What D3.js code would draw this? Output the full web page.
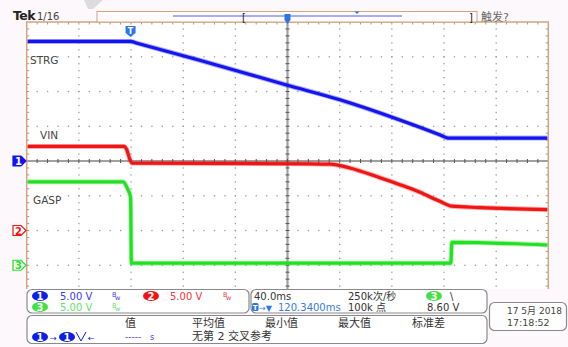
<!DOCTYPE html>
<html><head><meta charset="utf-8">
<script src="https://cdn.jsdelivr.net/npm/d3@7"></script>
<style>
body{margin:0;background:#fdf8fc;overflow:hidden;}
text{font-family:"DejaVu Sans","Noto Sans CJK SC",sans-serif;}
</style></head><body><div id="chart"></div>
<script>
// time in ms from trigger, values in volts
const strgTime = [-79.7, 0, 5, 53, 120.3, 160.6, 206.5, 238, 243.4, 320.3];
const strgVolt = [17.2, 17.2, 16.95, 14.5, 10.9, 8.8, 5.9, 3.7, 3.3, 3.3];
const vinTime = [-79.7, -5, -3, -0.5, 1.1, 137.5, 152.9, 168.2, 191.2, 206.5, 221.9, 237.2, 246.4, 267.9, 320.3];
const vinVolt = [12.1, 12.1, 11.65, 10.2, 9.7, 9.6, 9.55, 9.0, 7.6, 6.6, 5.5, 4.2, 3.5, 3.3, 3.0];
const gaspTime = [-79.7, -5.8, -2.1, 0, 0.6, 245.6, 246.4, 320.3];
const gaspVolt = [12.0, 12.0, 10.9, 9.8, 0.3, 0.3, 3.3, 2.9];
const traceLabels = ['STRG', 'VIN', 'GASP'];
const chNames = ['1', '2', '3'];
const chVoltsDiv = [5, 5, 5];
const chOffsetDiv = [0, -2, -3];
const timeWindow = [-79.66, 320.34]; // 40 ms/div, centre 120.34 ms

const W = 568, H = 347;
const blue = '#1414f0', red = '#f01414', green = '#22e022', tan = '#d2a57c';

const x = d3.scaleLinear().domain(timeWindow).range([26.7, 548.3]);
const y = d3.scaleLinear().domain([-4, 4]).range([300, 22]);
const divW = (x.range()[1] - x.range()[0]) / 10;
const divH = (y.range()[0] - y.range()[1]) / 8;

const svg = d3.select('#chart').append('svg')
  .attr('width', W).attr('height', H);

// watermark smear at the top
svg.append('path').attr('d', 'M84,0 L103,0 L93,9 L88,9 Z').attr('fill', '#dcdcdc');

// plot area
svg.append('rect').attr('x', x.range()[0]).attr('y', 22)
  .attr('width', x.range()[1] - x.range()[0]).attr('height', 267).attr('fill', '#fff');

const grid = svg.append('g');
// dotted grid
for (let i = 1; i < 10; i++) {
  if (i === 5) continue;
  const gx = x.range()[0] + i * divW;
  for (let k = 1; k < 40; k++) {
    const gy = 22 + k * divH / 5;
    if (gy > 288) break;
    grid.append('rect').attr('x', gx - 0.6).attr('y', gy - 0.6).attr('width', 1.3).attr('height', 1.3).attr('fill', '#9a9a9a');
  }
}
for (let j = -3; j <= 3; j++) {
  if (j === 0) continue;
  const gy = y(j);
  for (let k = 1; k < 50; k++) {
    const gx = x.range()[0] + k * divW / 5;
    grid.append('rect').attr('x', gx - 0.6).attr('y', gy - 0.6).attr('width', 1.3).attr('height', 1.3).attr('fill', '#9a9a9a');
  }
}
// centre lines with ticks
const cx = x(d3.mean(timeWindow));
grid.append('line').attr('x1', cx).attr('x2', cx).attr('y1', 22).attr('y2', 289)
  .attr('stroke', '#a0a0a0').attr('stroke-width', 2.2);
grid.append('line').attr('x1', x.range()[0]).attr('x2', x.range()[1]).attr('y1', y(0)).attr('y2', y(0))
  .attr('stroke', '#a0a0a0').attr('stroke-width', 2.2);
for (let k = 1; k < 40; k++) {
  const gy = 22 + k * divH / 5;
  if (gy > 288) break;
  grid.append('line').attr('x1', cx - 2).attr('x2', cx + 2).attr('y1', gy).attr('y2', gy).attr('stroke', '#555').attr('stroke-width', 1);
}
for (let k = 1; k < 50; k++) {
  const gx = x.range()[0] + k * divW / 5;
  grid.append('line').attr('x1', gx).attr('x2', gx).attr('y1', y(0) - 2).attr('y2', y(0) + 2).attr('stroke', '#555').attr('stroke-width', 1);
}
// border ticks
for (let k = 1; k < 50; k++) {
  const gx = x.range()[0] + k * divW / 5;
  grid.append('line').attr('x1', gx).attr('x2', gx).attr('y1', 22).attr('y2', 24.5).attr('stroke', '#999').attr('stroke-width', 1);
}
for (let k = 1; k < 40; k++) {
  const gy = 22 + k * divH / 5;
  if (gy > 288) break;
  grid.append('line').attr('x1', x.range()[0]).attr('x2', x.range()[0] + 2.5).attr('y1', gy).attr('y2', gy).attr('stroke', '#999').attr('stroke-width', 1);
  grid.append('line').attr('x1', x.range()[1] - 2.5).attr('x2', x.range()[1]).attr('y1', gy).attr('y2', gy).attr('stroke', '#999').attr('stroke-width', 1);
}
// tan border
svg.append('path')
  .attr('d', `M${x.range()[0]},289 V22 H${x.range()[1]} V289`)
  .attr('fill', 'none').attr('stroke', tan).attr('stroke-width', 1.5);

// traces
svg.append('clipPath').attr('id', 'clip').append('rect')
  .attr('x', x.range()[0] + 1).attr('y', 23).attr('width', x.range()[1] - x.range()[0] - 2).attr('height', 266);
const traces = [
  { t: strgTime, v: strgVolt, ch: 0, color: blue },
  { t: vinTime, v: vinVolt, ch: 1, color: red },
  { t: gaspTime, v: gaspVolt, ch: 2, color: green },
];
const tg = svg.append('g').attr('clip-path', 'url(#clip)');
traces.forEach((s) => {
  const pts = s.t.map((t, i) => [x(t), y(chOffsetDiv[s.ch] + s.v[i] / chVoltsDiv[s.ch])]);
  const line = d3.line().curve(d3.curveMonotoneX);
  tg.append('path').attr('d', line(pts)).attr('fill', 'none')
    .attr('stroke', s.color).attr('stroke-width', 5).attr('stroke-opacity', 0.35).attr('stroke-linejoin', 'round');
  tg.append('path').attr('d', line(pts)).attr('fill', 'none')
    .attr('stroke', s.color).attr('stroke-width', 3.2).attr('stroke-linejoin', 'round');
});

// trace labels
const labelPos = [[30, 64], [40, 139], [33, 204]];
traceLabels.forEach((l, i) => {
  svg.append('text').attr('x', labelPos[i][0]).attr('y', labelPos[i][1])
    .attr('font-size', 10.5).attr('fill', '#444').text(l);
});

// channel ground markers
const chColors = [blue, red, green];
chNames.forEach((n, i) => {
  const gy = y(chOffsetDiv[i]);
  const filled = i === 0;
  svg.append('path')
    .attr('d', `M13,${gy - 5} H21 L26,${gy} L21,${gy + 5} H13 Z`)
    .attr('fill', filled ? chColors[i] : '#fff').attr('stroke', chColors[i]).attr('stroke-width', 1.2);
  svg.append('text').attr('x', 18.5).attr('y', gy + 4).attr('text-anchor', 'middle')
    .attr('font-size', 10).attr('font-weight', 'bold')
    .attr('fill', filled ? '#fff' : chColors[i]).text(n);
});

// trigger marker T
const trg = svg.append('g').attr('transform', `translate(${x(0)},0)`);
trg.append('path').attr('d', 'M-5,26 H5 V33 L0,37 L-5,33 Z').attr('fill', '#2a78e8');
trg.append('text').attr('x', 0).attr('y', 33.5).attr('text-anchor', 'middle')
  .attr('font-size', 8).attr('font-weight', 'bold').attr('fill', '#fff').text('T');

// header
svg.append('text').attr('x', 13).attr('y', 20).attr('font-size', 12.5).attr('font-weight', 'bold')
  .attr('fill', '#222').attr('letter-spacing', -0.5).text('Tek');
svg.append('text').attr('x', 37).attr('y', 20).attr('font-size', 10).attr('fill', '#444').text('1/16');
svg.append('rect').attr('x', 97).attr('y', 11.5).attr('width', 380).attr('height', 10.5)
  .attr('fill', '#fffbfe').attr('stroke', tan).attr('stroke-width', 1);
svg.append('line').attr('x1', 173).attr('x2', 402).attr('y1', 16).attr('y2', 16)
  .attr('stroke', '#4a5cf0').attr('stroke-width', 1.2);
svg.append('text').attr('x', 242).attr('y', 20.5).attr('font-size', 10).attr('fill', '#222').text('[');
svg.append('text').attr('x', 469).attr('y', 20.5).attr('font-size', 10).attr('fill', '#222').text(']');
svg.append('path').attr('d', 'M354.5,11.5 H359.5 L357,14 Z').attr('fill', '#2a78e8');
svg.append('path').attr('d', `M${cx - 3},14 H${cx + 3} V20 L${cx},24 L${cx - 3},20 Z`).attr('fill', '#2a78e8');
svg.append('text').attr('x', 481).attr('y', 20.5).attr('font-size', 11).attr('fill', '#666').text('触发?');

// info panels
const panel = (px, py, pw, ph) => svg.append('rect').attr('x', px).attr('y', py)
  .attr('width', pw).attr('height', ph).attr('rx', 5)
  .attr('fill', '#fff').attr('stroke', '#8a8a8a').attr('stroke-width', 1.2);
panel(27, 289.5, 222, 23.5);
panel(251, 289.5, 236, 23.5);
panel(27, 315.5, 460, 28);
panel(489.5, 302.5, 77, 28);

const badge = (bx, by, color, label) => {
  svg.append('ellipse').attr('cx', bx).attr('cy', by).attr('rx', 8).attr('ry', 5).attr('fill', color);
  svg.append('text').attr('x', bx).attr('y', by + 3.8).attr('text-anchor', 'middle')
    .attr('font-size', 10).attr('font-weight', 'bold').attr('fill', '#fff').text(label);
};
const txt = (tx, ty, s, color, size) => svg.append('text').attr('x', tx).attr('y', ty)
  .attr('font-size', size || 10).attr('fill', color || '#333').text(s);
const bw = (bx, by, color) => {
  txt(bx, by - 2, 'B', color, 6.5);
  txt(bx + 3, by + 1, 'w', color, 6.5);
};

const chBadgeColor = ['#0a1ee6', '#f01414', '#44e044'];
const chTextColor = ['#3a3af0', '#f03a3a', '#66e066'];
badge(40, 296, chBadgeColor[0], chNames[0]);
txt(60, 300, `${chVoltsDiv[0].toFixed(2)} V`, chTextColor[0]);
bw(112, 299, chTextColor[0]);
badge(151, 296, chBadgeColor[1], chNames[1]);
txt(170, 300, `${chVoltsDiv[1].toFixed(2)} V`, chTextColor[1]);
bw(223, 299, chTextColor[1]);
badge(40, 307, chBadgeColor[2], chNames[2]);
txt(60, 311, `${chVoltsDiv[2].toFixed(2)} V`, chTextColor[2]);
bw(112, 310, chTextColor[2]);

txt(254, 300, `${(timeWindow[1] - timeWindow[0]) / 10}.0ms`, '#333');
txt(348, 300, '250k次/秒', '#333');
badge(434, 296, chBadgeColor[2], '3');
txt(450, 300, '\\', '#333');
svg.append('rect').attr('x', 252).attr('y', 303).attr('width', 6.5).attr('height', 8).attr('rx', 1.5).attr('fill', '#2a78e8');
svg.append('text').attr('x', 255.2).attr('y', 310).attr('text-anchor', 'middle').attr('font-size', 7)
  .attr('font-weight', 'bold').attr('fill', '#fff').text('T');
txt(259, 311, '→▼', '#2a78e8', 8);
txt(278, 311, `${d3.mean(timeWindow).toFixed(4)}ms`, '#3a7ae8');
txt(348, 311, '100k 点', '#333');
txt(427, 311, '8.60 V', '#333');

const stats = ['值', '平均值', '最小值', '最大值', '标准差'];
const statX = [125, 192, 265, 338, 412];
stats.forEach((s, i) => txt(statX[i], 327, s, '#333', 11));
badge(40, 337, chBadgeColor[0], '1');
txt(50, 340.5, '→', '#0a1ee6', 8);
badge(67, 337, chBadgeColor[0], '1');
svg.append('path').attr('d', 'M76,332 L81,341 L86,332').attr('fill', 'none').attr('stroke', '#0a1ee6').attr('stroke-width', 1);
txt(88, 340.5, '←', '#0a1ee6', 8);
txt(125, 340, '-----', '#3a3af0', 9);
txt(150, 340, 's', '#3a3af0', 8);
txt(192, 340, '无第 2 交叉参考', '#333', 11);

txt(507, 314, '17 5月 2018', '#444', 9).attr('textLength', 55).attr('lengthAdjust', 'spacingAndGlyphs');
txt(507, 326, '17:18:52', '#444', 9.5);
</script></body></html>
